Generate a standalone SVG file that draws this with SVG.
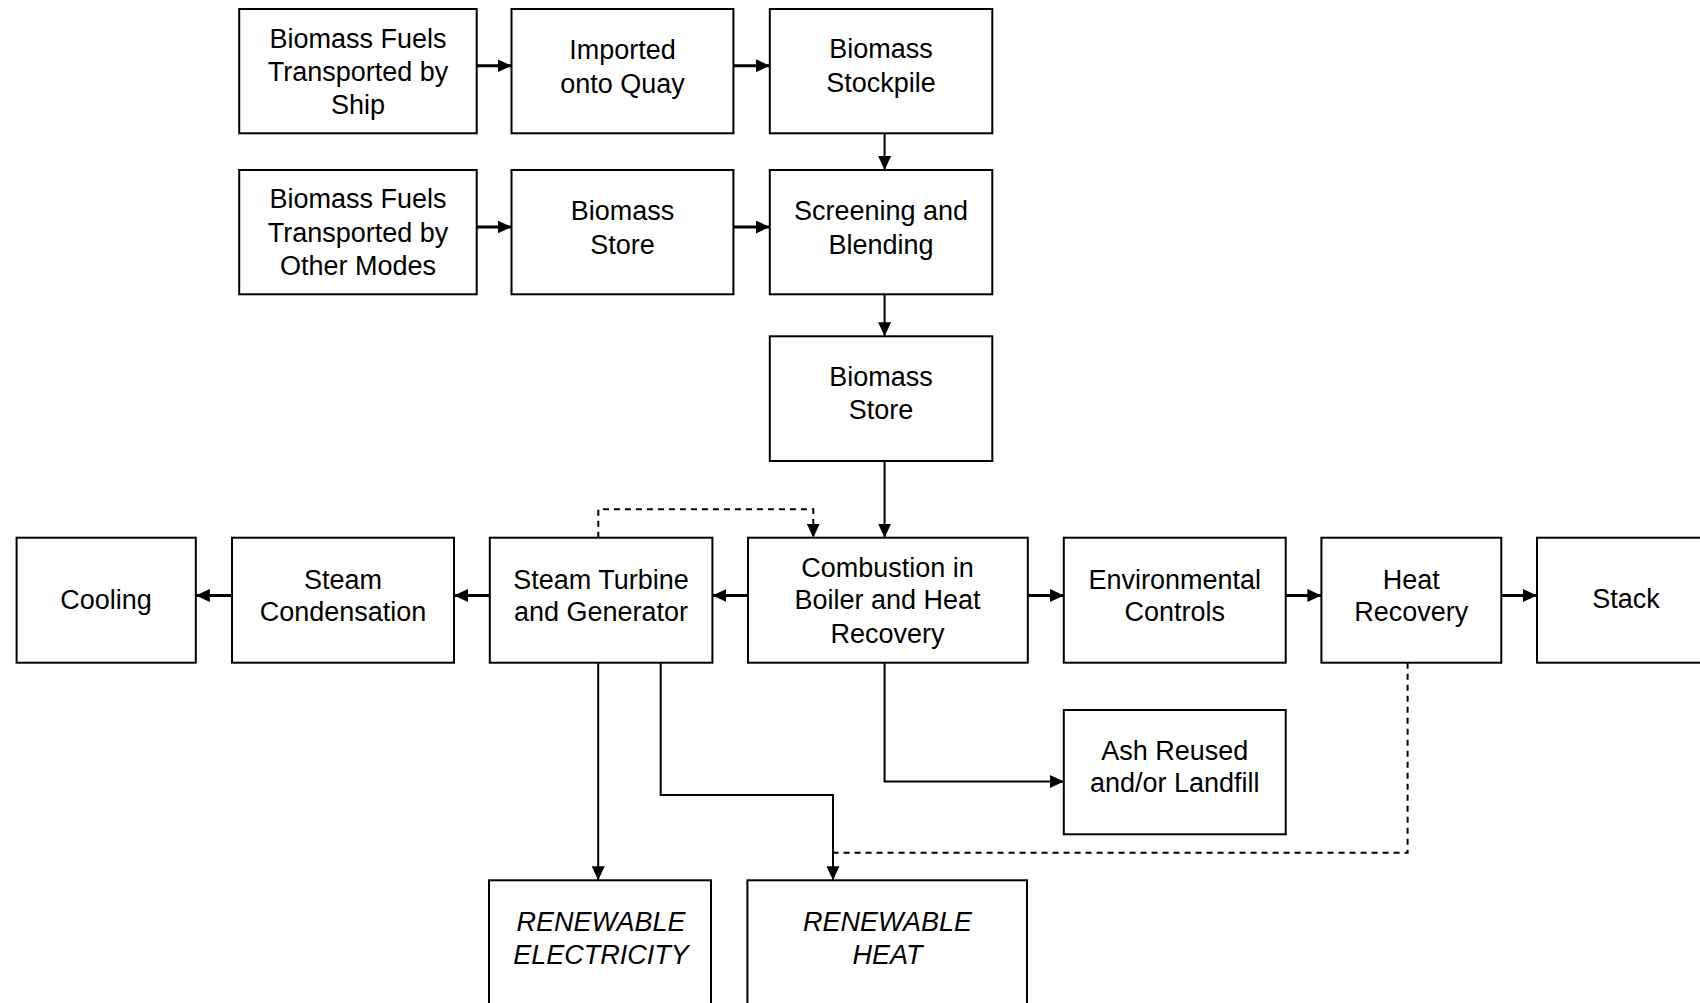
<svg xmlns="http://www.w3.org/2000/svg" width="1700" height="1003" viewBox="0 0 1700 1003">
<style>
.box{fill:#fff;stroke:#000;stroke-width:2}
.t{font-family:"Liberation Sans",Arial,Helvetica,sans-serif;font-size:27px;fill:#000;text-anchor:middle}
.i{font-style:italic}
.c{fill:none;stroke:#000;stroke-width:2}
.thick{stroke-width:3}
.dash{stroke-dasharray:6 5}
</style>
<defs>
<marker id="ah" markerUnits="userSpaceOnUse" markerWidth="15" markerHeight="13" refX="14" refY="6.5" orient="auto">
<path d="M0,0 L14,6.5 L0,13 z" fill="#000"/>
</marker>
</defs>
<rect width="1700" height="1003" fill="#fff"/>
<g id="connectors">
<path class="c thick" d="M476.7,65.7 H511.5" marker-end="url(#ah)"/>
<path class="c thick" d="M733.4,65.7 H769.8" marker-end="url(#ah)"/>
<path class="c" d="M884.6,133.3 V170" marker-end="url(#ah)"/>
<path class="c thick" d="M476.7,227 H511.5" marker-end="url(#ah)"/>
<path class="c thick" d="M733.4,227 H769.8" marker-end="url(#ah)"/>
<path class="c" d="M884.6,294 V336.3" marker-end="url(#ah)"/>
<path class="c" d="M884.6,461 V537.7" marker-end="url(#ah)"/>
<path class="c thick" d="M748,595.5 H712.4" marker-end="url(#ah)"/>
<path class="c thick" d="M489.8,595.5 H454" marker-end="url(#ah)"/>
<path class="c thick" d="M232,595.5 H195.8" marker-end="url(#ah)"/>
<path class="c thick" d="M1027.8,595.5 H1063.8" marker-end="url(#ah)"/>
<path class="c thick" d="M1285.7,595.5 H1321.4" marker-end="url(#ah)"/>
<path class="c thick" d="M1501.3,595.5 H1537" marker-end="url(#ah)"/>
<path class="c dash" d="M598.3,537.7 V509.3 H813.3 V537.7" marker-end="url(#ah)"/>
<path class="c" d="M884.6,662.7 V781.5 H1063.8" marker-end="url(#ah)"/>
<path class="c" d="M598.2,662.7 V880.3" marker-end="url(#ah)"/>
<path class="c" d="M660.7,662.7 V795 H833 V880.3" marker-end="url(#ah)"/>
<path class="c dash" d="M1407.6,662.7 V852.7 H833"/>
</g>
<g id="n1"><rect class="box" x="239.2" y="9" width="237.5" height="124.3"/><text class="t" x="358" y="47.7">Biomass Fuels</text><text class="t" x="358" y="81">Transported by</text><text class="t" x="358" y="113.5">Ship</text></g>
<g id="n2"><rect class="box" x="511.5" y="9" width="221.9" height="124.3"/><text class="t" x="622.5" y="59.4">Imported</text><text class="t" x="622.5" y="93">onto Quay</text></g>
<g id="n3"><rect class="box" x="769.8" y="9" width="222.5" height="124.3"/><text class="t" x="881" y="58.3">Biomass</text><text class="t" x="881" y="92">Stockpile</text></g>
<g id="n4"><rect class="box" x="239.2" y="170" width="237.5" height="124.3"/><text class="t" x="358" y="208">Biomass Fuels</text><text class="t" x="358" y="241.5">Transported by</text><text class="t" x="358" y="275">Other Modes</text></g>
<g id="n5"><rect class="box" x="511.5" y="170" width="221.9" height="124.3"/><text class="t" x="622.5" y="220">Biomass</text><text class="t" x="622.5" y="253.5">Store</text></g>
<g id="n6"><rect class="box" x="769.8" y="170" width="222.5" height="124.3"/><text class="t" x="881" y="220">Screening and</text><text class="t" x="881" y="253.5">Blending</text></g>
<g id="n7"><rect class="box" x="769.8" y="336.3" width="222.5" height="124.7"/><text class="t" x="881" y="385.7">Biomass</text><text class="t" x="881" y="419.3">Store</text></g>
<g id="n8"><rect class="box" x="16.6" y="537.7" width="179.2" height="125"/><text class="t" x="106" y="609">Cooling</text></g>
<g id="n9"><rect class="box" x="232" y="537.7" width="222" height="125"/><text class="t" x="343" y="588.5">Steam</text><text class="t" x="343" y="621">Condensation</text></g>
<g id="n10"><rect class="box" x="489.8" y="537.7" width="222.6" height="125"/><text class="t" x="601" y="588.5">Steam Turbine</text><text class="t" x="601" y="621">and Generator</text></g>
<g id="n11"><rect class="box" x="748" y="537.7" width="279.8" height="125"/><text class="t" x="887.5" y="576.5">Combustion in</text><text class="t" x="887.5" y="609">Boiler and Heat</text><text class="t" x="887.5" y="642.5">Recovery</text></g>
<g id="n12"><rect class="box" x="1063.8" y="537.7" width="221.9" height="125"/><text class="t" x="1174.7" y="588.5">Environmental</text><text class="t" x="1174.7" y="621">Controls</text></g>
<g id="n13"><rect class="box" x="1321.4" y="537.7" width="179.9" height="125"/><text class="t" x="1411.3" y="588.5">Heat</text><text class="t" x="1411.3" y="621">Recovery</text></g>
<g id="n14"><rect class="box" x="1537" y="537.7" width="180" height="125"/><text class="t" x="1626" y="608">Stack</text></g>
<g id="n15"><rect class="box" x="1063.8" y="710" width="221.9" height="124.3"/><text class="t" x="1174.7" y="759.7">Ash Reused</text><text class="t" x="1174.7" y="792.3">and/or Landfill</text></g>
<g id="n16"><rect class="box" x="489" y="880.3" width="222" height="140"/><text class="t i" x="601" y="931">RENEWABLE</text><text class="t i" x="601" y="963.5">ELECTRICITY</text></g>
<g id="n17"><rect class="box" x="747.4" y="880.3" width="279.6" height="140"/><text class="t i" x="887.5" y="931">RENEWABLE</text><text class="t i" x="887.5" y="963.5">HEAT</text></g>
</svg>
